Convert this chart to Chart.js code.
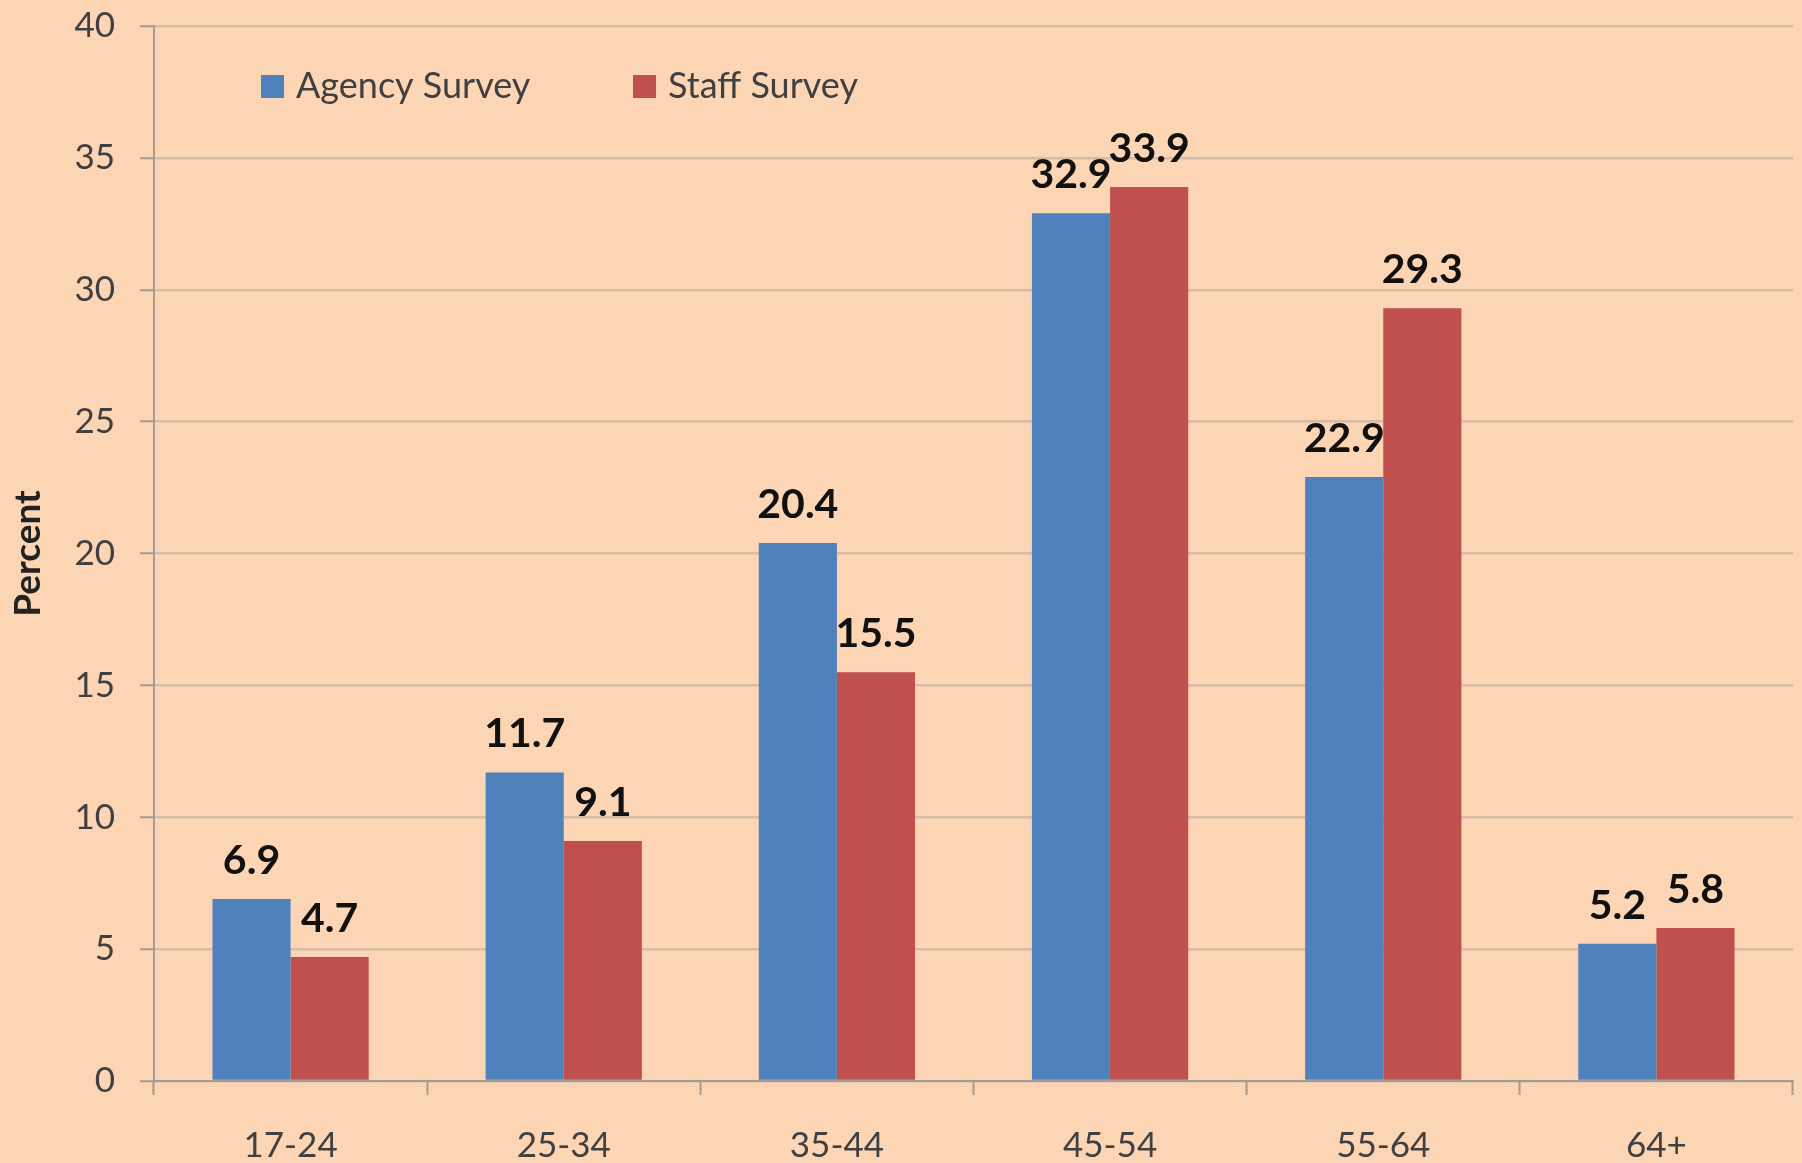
<!DOCTYPE html>
<html>
<head>
<meta charset="utf-8">
<script src="https://cdn.jsdelivr.net/npm/chart.js@4.4.1/dist/chart.umd.min.js"></script>
<style>
  html, body { margin: 0; padding: 0; background: #FCD5B5; overflow: hidden; }
  #wrap { width: 1802px; height: 1163px; position: relative; }
</style>
</head>
<body>
<div id="wrap"><canvas id="ageChart"></canvas></div>
<script>
'use strict';

const ageGroups = ['17-24', '25-34', '35-44', '45-54', '55-64', '64+'];
const agencySurvey = [6.9, 11.7, 20.4, 32.9, 22.9, 5.2];
const staffSurvey = [4.7, 9.1, 15.5, 33.9, 29.3, 5.8];
const seriesNames = ['Agency Survey', 'Staff Survey'];

const BG = '#FCD5B5';
const GRID = '#D6BCA6';
const AXIS = '#A39C95';
const TEXT = '#404040';
const FONT = 'Lato, "DejaVu Sans", sans-serif';

// paint the peach background behind everything
const bgPlugin = {
    id: 'bg',
    beforeDraw(chart) {
        const c = chart.ctx;
        c.save();
        c.fillStyle = BG;
        c.fillRect(0, 0, chart.width, chart.height);
        c.restore();
    }
};

// value labels above each bar
const valueLabels = {
    id: 'valueLabels',
    afterDatasetsDraw(chart) {
        const c = chart.ctx;
        c.save();
        c.font = 'bold 41px ' + FONT;
        c.fillStyle = '#111';
        c.textAlign = 'center';
        c.textBaseline = 'alphabetic';
        chart.data.datasets.forEach((ds, i) => {
            chart.getDatasetMeta(i).data.forEach((bar, j) => {
                c.fillText(ds.data[j].toFixed(1), bar.x, bar.y - 25);
            });
        });
        c.restore();
    }
};

// legend sits inside the plot, top left
const innerLegend = {
    id: 'innerLegend',
    afterDraw(chart) {
        const c = chart.ctx;
        const starts = [261, 633];
        c.save();
        c.font = '36px ' + FONT;
        c.textBaseline = 'alphabetic';
        chart.data.datasets.forEach((ds, i) => {
            const x = starts[i];
            c.fillStyle = ds.backgroundColor;
            c.fillRect(x, 75, 23, 23);
            c.fillStyle = TEXT;
            c.fillText(ds.label, x + 35, 98);
        });
        c.restore();
    }
};

new Chart(document.getElementById('ageChart'), {
    type: 'bar',
    data: {
        labels: ageGroups,
        datasets: [
            { label: seriesNames[0], data: agencySurvey, backgroundColor: '#4F81BD' },
            { label: seriesNames[1], data: staffSurvey, backgroundColor: '#C0504D' }
        ]
    },
    options: {
        responsive: true,
        maintainAspectRatio: false,
        animation: false,
        devicePixelRatio: 1,
        categoryPercentage: 0.572,
        barPercentage: 1,
        layout: { padding: { top: 26, right: 9, left: 0, bottom: 0 } },
        plugins: {
            legend: { display: false },
            tooltip: { enabled: false }
        },
        scales: {
            y: {
                min: 0,
                max: 40,
                afterFit: s => {
                    s.width = 154;
                    s.paddingTop = 20;
                    s.paddingBottom = 20;
                },
                ticks: { stepSize: 5, color: TEXT, font: { family: FONT, size: 35 }, padding: 25 },
                grid: { color: GRID, lineWidth: 2.5, tickLength: 14, tickColor: AXIS, tickWidth: 2 },
                border: { color: AXIS, width: 2 },
                title: {
                    display: true,
                    text: 'Percent',
                    color: '#222',
                    font: { family: FONT, size: 37, weight: 'bold' },
                    padding: { top: 6, bottom: 0 }
                }
            },
            x: {
                afterFit: s => { s.height = 82; },
                ticks: { color: TEXT, font: { family: FONT, size: 35 }, padding: 30, maxRotation: 0 },
                grid: { drawOnChartArea: false, offset: true, tickLength: 14, color: AXIS, tickWidth: 2 },
                border: { color: AXIS, width: 2 }
            }
        }
    },
    plugins: [bgPlugin, valueLabels, innerLegend]
});
</script>
</body>
</html>
